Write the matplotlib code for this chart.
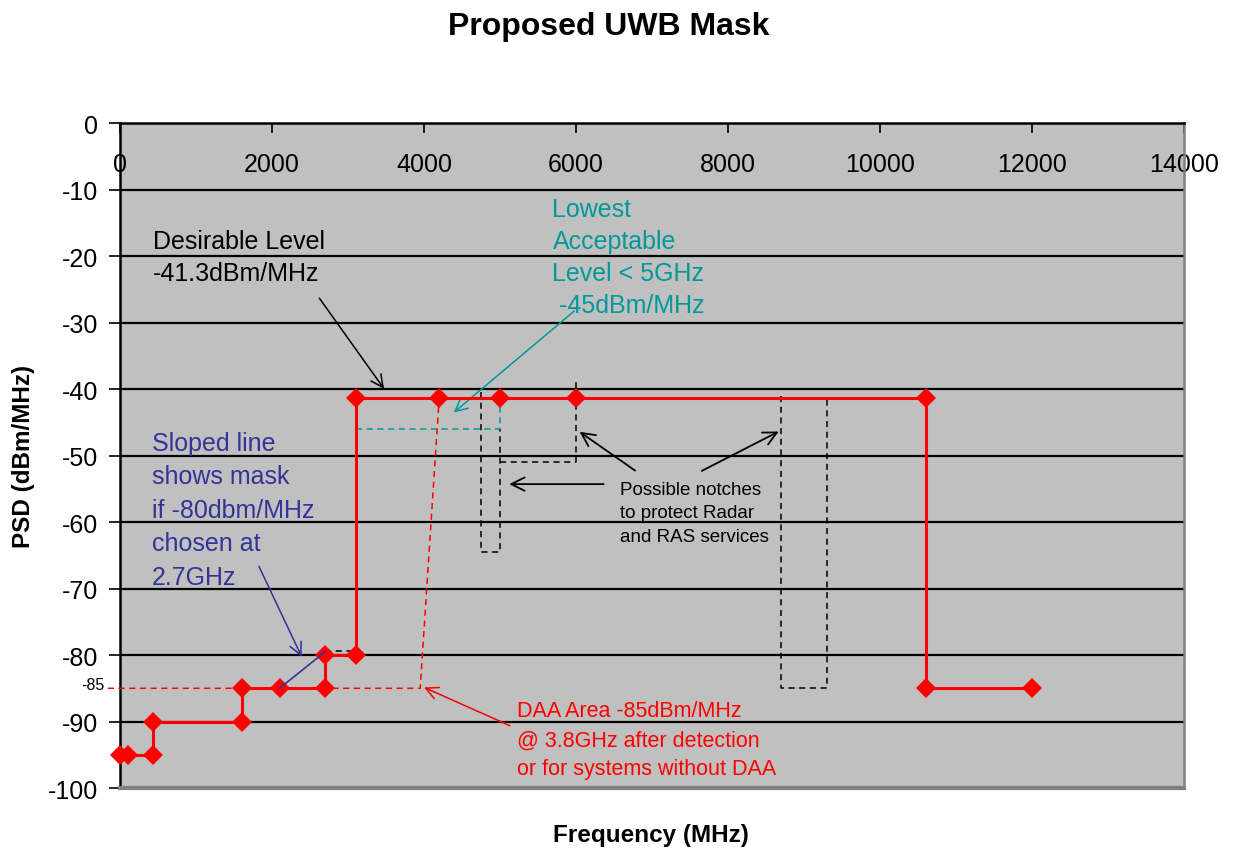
import matplotlib
matplotlib.use("Agg")
import matplotlib.pyplot as plt

plt.rcParams['font.family'] = ['Liberation Sans', 'DejaVu Sans']

# ---- data ----
mask_freq = [0, 100, 440, 440, 1600, 1600, 2100, 2700, 2700, 3100, 3100,
             4200, 5000, 6000, 10600, 10600, 12000]
mask_psd = [-95, -95, -95, -90, -90, -85, -85, -85, -80, -80, -41.3,
            -41.3, -41.3, -41.3, -41.3, -85, -85]

notch1_freq = [4750, 4750, 5000, 5000]
notch1_psd = [-40.5, -64.5, -64.5, -46]
notch2_freq = [5000, 6000, 6000]
notch2_psd = [-51, -51, -39]
notch3_freq = [8700, 8700, 9300, 9300]
notch3_psd = [-41, -85, -85, -41]

lowest_freq = [3100, 5000, 5000]
lowest_psd = [-46, -46, -41.3]

daa_freq = [-160, 3950, 4200]
daa_psd = [-85, -85, -41.3]

slope_freq = [2100, 2700]
slope_psd = [-85, -79.5]
slope_ref_freq = [2700, 3100]
slope_ref_psd = [-79.4, -79.4]

x_ticks = [0, 2000, 4000, 6000, 8000, 10000, 12000, 14000]
y_ticks = [0, -10, -20, -30, -40, -50, -60, -70, -80, -90, -100]

RED = '#FF0000'
TEAL = '#009999'
BLUE = '#333399'

fig = plt.figure(figsize=(12.37, 8.53), dpi=100)
ax = fig.add_axes([0.0970, 0.0750, 0.8602, 0.7796])
ax.set_facecolor('#C0C0C0')
ax.spines['bottom'].set_position(('data', 0))
ax.set_xlim(0, 14000)
ax.set_ylim(-100, 0)

# ticks and grid
ax.set_yticks(y_ticks)
ax.set_yticklabels([str(v) for v in y_ticks])
ax.set_xticks(x_ticks)
ax.set_xticklabels([str(v) for v in x_ticks])
ax.tick_params(axis='y', direction='out', length=8, width=1.2, pad=8,
               labelsize=18)
ax.tick_params(axis='x', direction='out', length=7, width=1.2, pad=14,
               labelsize=18)
ax.yaxis.grid(True, color='black', lw=1.6)
ax.set_axisbelow(True)

ax.spines['bottom'].set_linewidth(1.8)
ax.spines['top'].set_visible(False)
ax.spines['left'].set_linewidth(1.8)
ax.spines['right'].set_color('#808080')
ax.spines['right'].set_linewidth(1.8)
ax.axhline(-100, color='#808080', lw=3, clip_on=False, zorder=3)

# dashed helper lines
dkw = dict(lw=1.1, dashes=(4, 3), zorder=4)
ax.plot(notch1_freq, notch1_psd, color='black', **dkw)
ax.plot(notch2_freq, notch2_psd, color='black', **dkw)
ax.plot(notch3_freq, notch3_psd, color='black', **dkw)
ax.plot(slope_ref_freq, slope_ref_psd, color='black', **dkw)
ax.plot(lowest_freq, lowest_psd, color=TEAL, **dkw)
ax.plot(daa_freq, daa_psd, color=RED, clip_on=False, **dkw)
ax.plot(slope_freq, slope_psd, color=BLUE, lw=1.2, zorder=6)

# main mask
ax.plot(mask_freq, mask_psd, color=RED, lw=2.2, marker='D', ms=10.5,
        markeredgewidth=0, zorder=5, clip_on=False)

ax.text(-200, -84.5, '-85', fontsize=11.5, ha='right', va='center')

# annotations
ax.text(434, -15.9, 'Desirable Level\n-41.3dBm/MHz', fontsize=18,
        color='black', va='top', ha='left', linespacing=1.45)
ax.annotate('', xy=(3495, -40.3), xytext=(2602, -26.0),
            arrowprops=dict(arrowstyle='->', color='black', lw=1.1,
                            mutation_scale=22))

ax.text(5690, -11.1, 'Lowest\nAcceptable\nLevel < 5GHz\n -45dBm/MHz',
        fontsize=18, color=TEAL, va='top', ha='left', linespacing=1.42)
ax.annotate('', xy=(4363, -43.8), xytext=(6005, -28.0),
            arrowprops=dict(arrowstyle='->', color=TEAL, lw=1.1,
                            mutation_scale=22))

ax.text(420, -46.3, 'Sloped line\nshows mask\nif -80dbm/MHz\nchosen at\n2.7GHz',
        fontsize=18, color=BLUE, va='top', ha='left', linespacing=1.5)
ax.annotate('', xy=(2405, -80.6), xytext=(1813, -66.3),
            arrowprops=dict(arrowstyle='->', color=BLUE, lw=1.1,
                            mutation_scale=22))

ax.text(6583, -53.8, 'Possible notches\nto protect Radar\nand RAS services',
        fontsize=13.5, color='black', va='top', ha='left', linespacing=1.5)
for start, end in [((6807, -52.5), (6018, -46.2)),
                   ((7622, -52.5), (8699, -46.2)),
                   ((6399, -54.3), (5085, -54.3))]:
    ax.annotate('', xy=end, xytext=start,
                arrowprops=dict(arrowstyle='->', color='black', lw=1.3,
                                mutation_scale=24))

ax.text(5217, -86.8, 'DAA Area -85dBm/MHz\n@ 3.8GHz after detection\nor for systems without DAA',
        fontsize=15.5, color=RED, va='top', ha='left', linespacing=1.5)
ax.annotate('', xy=(3968, -84.7), xytext=(5164, -90.8),
            arrowprops=dict(arrowstyle='->', color=RED, lw=1.1,
                            mutation_scale=22))

fig.text(0.492, 0.968, 'Proposed UWB Mask', fontsize=23, fontweight='bold',
         ha='center', va='center')
fig.text(0.526, 0.021, 'Frequency (MHz)', fontsize=17.5, fontweight='bold',
         ha='center', va='center')
fig.text(0.019, 0.465, 'PSD (dBm/MHz)', fontsize=17.5, fontweight='bold',
         ha='center', va='center', rotation=90)

fig.savefig('out.png', dpi=100)
